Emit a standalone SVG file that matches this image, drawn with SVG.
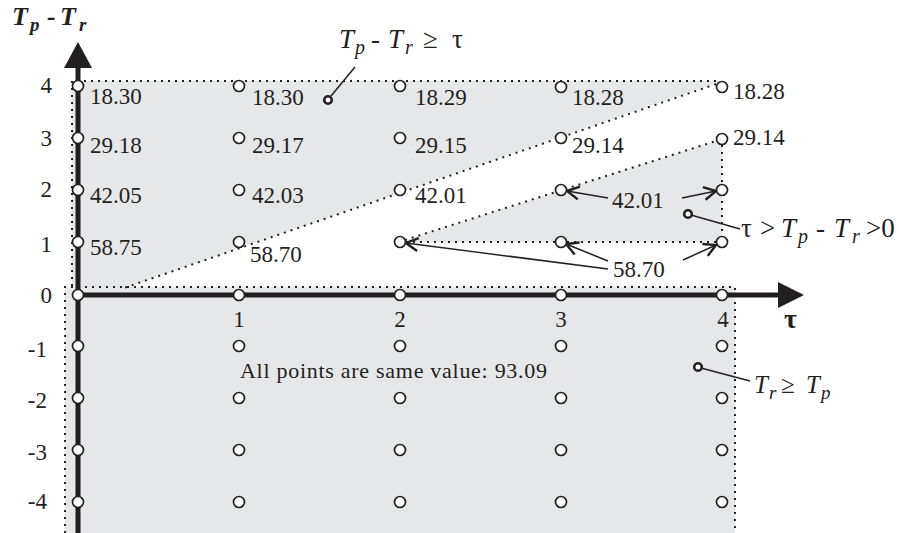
<svg xmlns="http://www.w3.org/2000/svg" width="899" height="533" viewBox="0 0 899 533">
<defs>
<style>
.reg{fill:#e6e7e9;stroke:none}
.dot{fill:none;stroke:#231f20;stroke-width:2;stroke-dasharray:2 5}
.ax{stroke:#231f20;stroke-width:5;fill:none}
.pt{fill:#fff;stroke:#231f20;stroke-width:1.7}
.t{font-family:"Liberation Serif","Times New Roman",serif;fill:#231f20}
.it{font-style:italic}
.arr{fill:none;stroke:#231f20;stroke-width:1.5;marker-end:url(#head)}
.co{fill:none;stroke:#231f20;stroke-width:1.5}
.mk{fill:#fff;stroke:#231f20;stroke-width:2.6}
</style>
<marker id="head" markerWidth="16" markerHeight="16" refX="14" refY="8" orient="auto" markerUnits="userSpaceOnUse">
<path d="M2,1.5 L14,8 L2,14.5" fill="none" stroke="#231f20" stroke-width="2.4"/>
</marker>
</defs>
<rect width="899" height="533" fill="#fff"/>

<g id="regions">
<path class="reg" d="M72,81 L722,81 L124,288 L72,288 Z"/>
<path class="reg" d="M400,242 L722,139 L722,242 Z"/>
<rect class="reg" x="65" y="287" width="670" height="246"/>
<path class="dot" d="M72,286 L72,81 L716,81"/>
<path class="dot" d="M716,84 L124,288"/>
<path class="dot" d="M405,240 L716,141"/>
<path class="dot" d="M406,242 L716,242"/>
<path class="dot" d="M722,145 L722,236"/>
<path class="dot" d="M65,533 L65,287 L735,287 L735,533"/>
</g>

<g id="axes">
<line class="ax" x1="78" y1="533" x2="78" y2="64"/>
<polygon points="78,42 64,68 92,68" fill="#231f20"/>
<line class="ax" x1="78" y1="295" x2="782" y2="295"/>
<polygon points="804,295 778,282 778,308" fill="#231f20"/>
<text class="t" y="25" style="font-size:26px;font-weight:bold;font-style:italic"><tspan x="12">T</tspan><tspan x="30" y="31" style="font-size:19px">p</tspan><tspan x="47" y="25">-</tspan><tspan x="60">T</tspan><tspan x="79" y="31" style="font-size:19px">r</tspan></text>
<text class="t" x="784" y="328" style="font-size:28px;font-weight:bold">τ</text>
<g text-anchor="end" style="font-size:23px">
<text class="t" x="52" y="93">4</text>
<text class="t" x="52" y="146">3</text>
<text class="t" x="52" y="197">2</text>
<text class="t" x="52" y="252">1</text>
<text class="t" x="52" y="303">0</text>
<text class="t" x="47" y="357">-1</text>
<text class="t" x="47" y="408">-2</text>
<text class="t" x="47" y="460">-3</text>
<text class="t" x="47" y="509">-4</text>
</g>
<g text-anchor="middle" style="font-size:23px">
<text class="t" x="239" y="327">1</text>
<text class="t" x="400" y="327">2</text>
<text class="t" x="561" y="327">3</text>
<text class="t" x="723" y="327">4</text>
</g>
</g>

<g id="connectors">
<line class="arr" x1="608" y1="198" x2="567" y2="191"/>
<line class="arr" x1="682" y1="198" x2="716" y2="191"/>
<line class="arr" x1="608" y1="261" x2="566" y2="244"/>
<line class="arr" x1="608" y1="269" x2="406" y2="243"/>
<line class="arr" x1="683" y1="260" x2="716" y2="245"/>
<line class="co" x1="331" y1="96" x2="355" y2="67"/>
<line class="co" x1="691" y1="215" x2="740" y2="229"/>
<line class="co" x1="701" y1="368" x2="750" y2="381"/>
</g>

<g id="points">
<g id="col0">
<circle class="pt" cx="78" cy="86" r="5.5"/><circle class="pt" cx="78" cy="138" r="5.5"/><circle class="pt" cx="78" cy="190" r="5.5"/><circle class="pt" cx="78" cy="242" r="5.5"/><circle class="pt" cx="78" cy="295" r="5.5"/><circle class="pt" cx="78" cy="346" r="5.5"/><circle class="pt" cx="78" cy="398" r="5.5"/><circle class="pt" cx="78" cy="450" r="5.5"/><circle class="pt" cx="78" cy="502" r="5.5"/>
</g>
<g id="col1">
<circle class="pt" cx="239" cy="86" r="5.5"/><circle class="pt" cx="239" cy="138" r="5.5"/><circle class="pt" cx="239" cy="190" r="5.5"/><circle class="pt" cx="239" cy="242" r="5.5"/><circle class="pt" cx="239" cy="295" r="5.5"/><circle class="pt" cx="239" cy="346" r="5.5"/><circle class="pt" cx="239" cy="398" r="5.5"/><circle class="pt" cx="239" cy="450" r="5.5"/><circle class="pt" cx="239" cy="502" r="5.5"/>
</g>
<g id="col2">
<circle class="pt" cx="400" cy="86" r="5.5"/><circle class="pt" cx="400" cy="138" r="5.5"/><circle class="pt" cx="400" cy="190" r="5.5"/><circle class="pt" cx="400" cy="242" r="5.5"/><circle class="pt" cx="400" cy="295" r="5.5"/><circle class="pt" cx="400" cy="346" r="5.5"/><circle class="pt" cx="400" cy="398" r="5.5"/><circle class="pt" cx="400" cy="450" r="5.5"/><circle class="pt" cx="400" cy="502" r="5.5"/>
</g>
<g id="col3">
<circle class="pt" cx="561" cy="87" r="5.5"/><circle class="pt" cx="561" cy="138" r="5.5"/><circle class="pt" cx="561" cy="190" r="5.5"/><circle class="pt" cx="561" cy="242" r="5.5"/><circle class="pt" cx="561" cy="295" r="5.5"/><circle class="pt" cx="561" cy="346" r="5.5"/><circle class="pt" cx="561" cy="398" r="5.5"/><circle class="pt" cx="561" cy="450" r="5.5"/><circle class="pt" cx="561" cy="502" r="5.5"/>
</g>
<g id="col4">
<circle class="pt" cx="722" cy="87" r="5.5"/><circle class="pt" cx="722" cy="139" r="5.5"/><circle class="pt" cx="722" cy="190" r="5.5"/><circle class="pt" cx="722" cy="242" r="5.5"/><circle class="pt" cx="722" cy="295" r="5.5"/><circle class="pt" cx="722" cy="346" r="5.5"/><circle class="pt" cx="722" cy="398" r="5.5"/><circle class="pt" cx="722" cy="450" r="5.5"/><circle class="pt" cx="722" cy="502" r="5.5"/>
</g>
</g>

<g id="values" style="font-size:23px">
<text class="t" x="90" y="104">18.30</text>
<text class="t" x="90" y="153">29.18</text>
<text class="t" x="90" y="203">42.05</text>
<text class="t" x="90" y="255">58.75</text>
<text class="t" x="252" y="105">18.30</text>
<text class="t" x="252" y="153">29.17</text>
<text class="t" x="252" y="203">42.03</text>
<text class="t" x="250" y="262">58.70</text>
<text class="t" x="415" y="105">18.29</text>
<text class="t" x="415" y="153">29.15</text>
<text class="t" x="415" y="203">42.01</text>
<text class="t" x="572" y="105">18.28</text>
<text class="t" x="572" y="153">29.14</text>
<text class="t" x="733" y="99">18.28</text>
<text class="t" x="733" y="145">29.14</text>
<text class="t" x="612" y="208">42.01</text>
<text class="t" x="613" y="277">58.70</text>
<text class="t" x="240" y="378" textLength="307" lengthAdjust="spacing" style="font-size:22px">All points are same value: 93.09</text>
</g>

<g id="annotations">
<circle class="mk" cx="328" cy="100" r="3.8"/>
<text class="t" y="48" style="font-size:27px"><tspan x="339" class="it">T</tspan><tspan x="355" y="54" class="it" style="font-size:20px">p</tspan><tspan x="371" y="48">-</tspan><tspan x="388" class="it">T</tspan><tspan x="405" y="54" class="it" style="font-size:20px">r</tspan><tspan x="423" y="48">≥</tspan><tspan x="452">τ</tspan></text>
<circle class="mk" cx="688" cy="214" r="3.8"/>
<text class="t" y="237" style="font-size:27px"><tspan x="741">τ</tspan><tspan x="760">&gt;</tspan><tspan x="781" class="it">T</tspan><tspan x="798" y="243" class="it" style="font-size:20px">p</tspan><tspan x="816" y="237">-</tspan><tspan x="834" class="it">T</tspan><tspan x="852" y="243" class="it" style="font-size:20px">r</tspan><tspan x="866" y="237">&gt;0</tspan></text>
<circle class="mk" cx="698" cy="367" r="3.8"/>
<text class="t" y="393" style="font-size:25px"><tspan x="754" class="it">T</tspan><tspan x="769" y="399" class="it" style="font-size:19px">r</tspan><tspan x="781" y="393">≥</tspan><tspan x="806" class="it">T</tspan><tspan x="821" y="399" class="it" style="font-size:19px">p</tspan></text>
</g>
</svg>
